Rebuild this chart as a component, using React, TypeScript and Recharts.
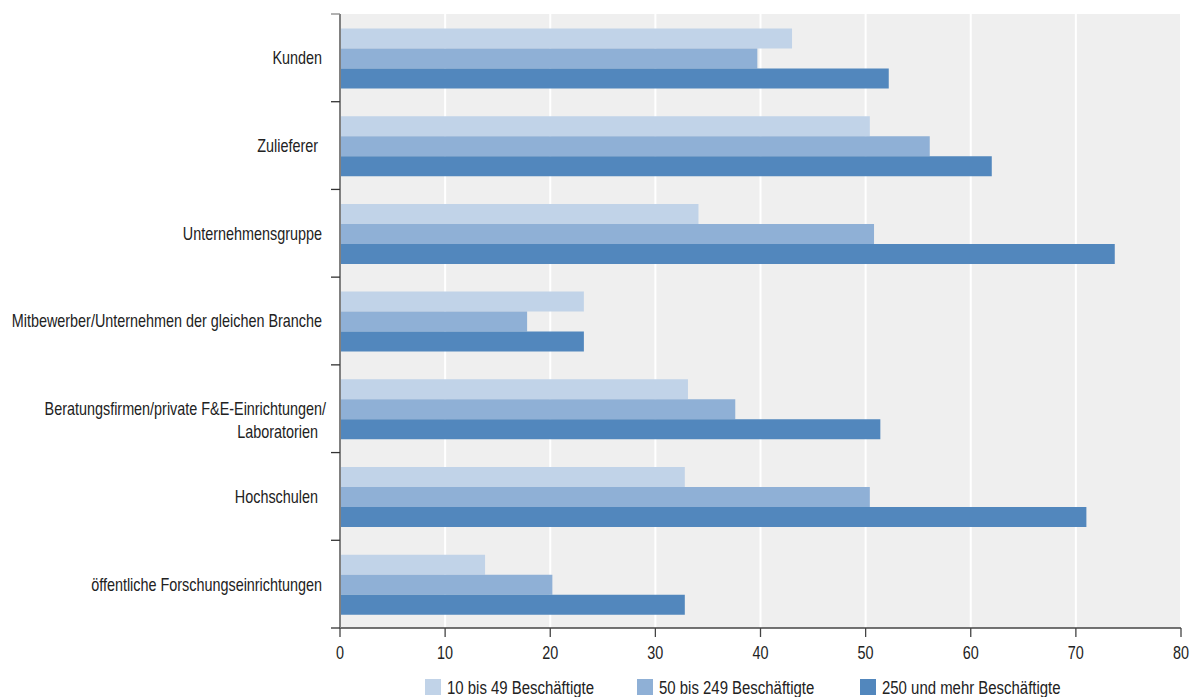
import React from "react";
import { BarChart, Bar, XAxis, YAxis, CartesianGrid } from "recharts";

const categories = [
  "Kunden",
  "Zulieferer ",
  "Unternehmensgruppe",
  "Mitbewerber/Unternehmen der gleichen Branche",
  "Beratungsfirmen/private F&E-Einrichtungen/\nLaboratorien ",
  "Hochschulen ",
  "öffentliche Forschungseinrichtungen",
];
const small = [43.0, 50.4, 34.1, 23.2, 33.1, 32.8, 13.8];
const medium = [39.7, 56.1, 50.8, 17.8, 37.6, 50.4, 20.2];
const large = [52.2, 62.0, 73.7, 23.2, 51.4, 71.0, 32.8];
const xTicks = [0, 10, 20, 30, 40, 50, 60, 70, 80];
const seriesNames = ["10 bis 49 Beschäftigte", "50 bis 249 Beschäftigte", "250 und mehr Beschäftigte"];
const seriesKeys = ["small", "medium", "large"];
const colors = ["#c1d3e8", "#8fb0d6", "#5287bd"];

const data = categories.map((c, i) => ({ name: c, small: small[i], medium: medium[i], large: large[i] }));

const FONT = "'Liberation Sans', Arial, sans-serif";
const FS = 18;
const SX = 0.8;
const W = 1183;
const H = 689;
const M = { top: 6, right: 10, left: 0, bottom: 39 };
const AXIS_X = 332;
const PLOT_H = H - M.top - M.bottom - 30;
const BAND = PLOT_H / categories.length;
const legendLefts = [417, 629, 852];

function YTick(props: any) {
  const { y, payload, index } = props;
  const lines = String(payload.value).split("\n");
  const y0 = y + 6.4;
  return (
    <g>
      <line x1={AXIS_X - 9} x2={AXIS_X} y1={y - BAND / 2} y2={y - BAND / 2} stroke={index === 0 ? "#888" : "#333"} strokeWidth={1.3} />
      {index === categories.length - 1 && (
        <line x1={AXIS_X - 9} x2={AXIS_X} y1={y + BAND / 2} y2={y + BAND / 2} stroke="#333" strokeWidth={1.3} />
      )}
      {lines.map((l, i) => (
        <text
          key={i}
          transform={`translate(${AXIS_X - 18 + (lines.length > 1 && i === 0 ? 4 : 0)},${y0 + i * 23}) scale(${SX},1)`}
          textAnchor="end"
          fontFamily={FONT}
          fontSize={FS}
          fill="#222"
          style={{ whiteSpace: "pre" }}
        >
          {l}
        </text>
      ))}
    </g>
  );
}

function XTick(props: any) {
  const { x, payload } = props;
  return (
    <text
      transform={`translate(${x},651) scale(${SX},1)`}
      textAnchor="middle"
      fontFamily={FONT}
      fontSize={FS}
      fill="#222"
    >
      {payload.value}
    </text>
  );
}

export default function App() {
  return (
    <div style={{ position: "absolute", left: 8, top: 8, width: W, height: H, overflow: "hidden" }}>
      <BarChart
        width={W}
        height={H}
        data={data}
        layout="vertical"
        margin={M}
        barCategoryGap="16.5%"
        barGap={0}
        style={{ overflow: "visible" }}
      >
        <CartesianGrid horizontal={false} vertical={true} stroke="#ffffff" strokeWidth={2} fill="#efefef" fillOpacity={1} />
        <XAxis
          type="number"
          domain={[0, 80]}
          ticks={xTicks}
          height={30}
          axisLine={{ stroke: "#444", strokeWidth: 1.3 }}
          tickLine={{ stroke: "#444", strokeWidth: 1.3 }}
          tickSize={9}
          tickMargin={10}
          tick={<XTick />}
        />
        <YAxis
          type="category"
          dataKey="name"
          width={AXIS_X}
          axisLine={{ stroke: "#808080", strokeWidth: 2 }}
          tickLine={false}
          tick={<YTick />}
          interval={0}
        />
        {seriesKeys.map((k, i) => (
          <Bar key={k} dataKey={k} name={seriesNames[i]} fill={colors[i]} isAnimationActive={false} />
        ))}
      </BarChart>
      {seriesNames.map((n, i) => (
        <div key={n} style={{ position: "absolute", left: legendLefts[i], top: 671, height: 16 }}>
          <div style={{ position: "absolute", left: 0, top: 0, width: 16, height: 16, background: colors[i] }} />
          <span
            style={{
              position: "absolute",
              left: 22,
              top: 1,
              fontFamily: FONT,
              fontSize: FS,
              lineHeight: "16px",
              color: "#222",
              whiteSpace: "nowrap",
              transform: "scaleX(0.83)",
              transformOrigin: "left center",
            }}
          >
            {n}
          </span>
        </div>
      ))}
    </div>
  );
}
